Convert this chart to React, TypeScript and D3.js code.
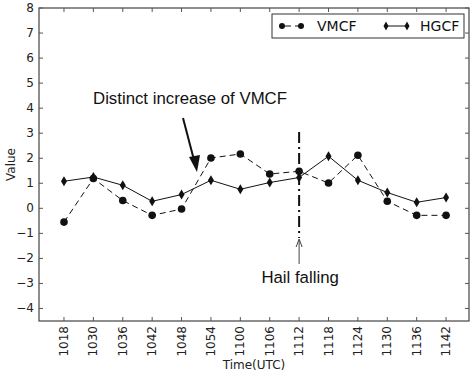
import React from 'react';
import * as d3 from 'd3';

const times = ['1018', '1030', '1036', '1042', '1048', '1054', '1100', '1106', '1112', '1118', '1124', '1130', '1136', '1142'];
const vmcf = [-0.55, 1.19, 0.31, -0.28, -0.03, 2.01, 2.17, 1.37, 1.48, 1.01, 2.12, 0.28, -0.28, -0.28];
const hgcf = [1.08, 1.25, 0.92, 0.28, 0.55, 1.12, 0.76, 1.03, 1.23, 2.08, 1.12, 0.63, 0.24, 0.43];
const yTicks = [-4, -3, -2, -1, 0, 1, 2, 3, 4, 5, 6, 7, 8];
const hailTime = '1112';

const W = 474, H = 374;
const left = 39, right = 469, top = 8, bottom = 321;

const App = () => {
  const x = d3.scaleLinear().domain([-0.85, 13.78]).range([left, right]);
  const y = d3.scaleLinear().domain([-4.5, 8]).range([bottom, top]);
  const line = d3.line<number>().x((d, i) => x(i)).y(d => y(d));
  const tickFont = 'DejaVu Sans, sans-serif';
  const annFont = 'Liberation Sans, Arial, sans-serif';
  const hx = x(times.indexOf(hailTime));

  // diamond marker path (thin)
  const diamond = (cx: number, cy: number, w = 3, h = 5) =>
    `M${cx},${cy - h}L${cx + w},${cy}L${cx},${cy + h}L${cx - w},${cy}Z`;

  return (
    <svg width={W} height={H} style={{ position: 'absolute', left: 0, top: 0, background: '#fff' }}>
      {/* frame */}
      <rect x={left} y={top} width={right - left} height={bottom - top} fill="none" stroke="#444" strokeWidth={1.2} />
      {/* y ticks */}
      {yTicks.map(t => (
        <g key={'y' + t}>
          <line x1={left} x2={left + 4} y1={y(t)} y2={y(t)} stroke="#555" />
          <line x1={right - 4} x2={right} y1={y(t)} y2={y(t)} stroke="#555" />
          <text x={left - 5} y={y(t)} textAnchor="end" dominantBaseline="central" fontFamily={tickFont} fontSize={12} fill="#222">
            {t < 0 ? '\u2212' + Math.abs(t) : t}
          </text>
        </g>
      ))}
      {/* x ticks */}
      {times.map((t, i) => (
        <g key={'x' + t}>
          <line x1={x(i)} x2={x(i)} y1={bottom} y2={bottom - 4} stroke="#555" />
          <line x1={x(i)} x2={x(i)} y1={top} y2={top + 4} stroke="#555" />
          <text transform={`translate(${x(i)},${bottom + 5}) rotate(-90)`} textAnchor="end" dominantBaseline="central"
            fontFamily={tickFont} fontSize={12} fill="#222">{t}</text>
        </g>
      ))}
      <text transform={`translate(11,${(top + bottom) / 2}) rotate(-90)`} textAnchor="middle" dominantBaseline="central"
        fontFamily={tickFont} fontSize={12} fill="#222">Value</text>
      <text x={(left + right) / 2} y={369} textAnchor="middle" fontFamily={tickFont} fontSize={12} fill="#222">Time(UTC)</text>

      {/* series */}
      <path d={line(vmcf) || ''} fill="none" stroke="#111" strokeWidth={1} strokeDasharray="6,4" />
      <path d={line(hgcf) || ''} fill="none" stroke="#111" strokeWidth={1} />
      {vmcf.map((v, i) => <circle key={'c' + i} cx={x(i)} cy={y(v)} r={3.8} fill="#111" />)}
      {hgcf.map((v, i) => <path key={'d' + i} d={diamond(x(i), y(v))} fill="#111" />)}

      {/* hail falling line + arrow */}
      <line x1={hx} x2={hx} y1={132} y2={238} stroke="#111" strokeWidth={2} strokeDasharray="11,4,2,4" />
      <line x1={hx} x2={hx} y1={264} y2={240} stroke="#444" strokeWidth={1} />
      <path d={`M${hx - 3},${247}L${hx},${239}L${hx + 3},${247}`} fill="none" stroke="#444" strokeWidth={1} />
      <text x={hx + 1} y={283} textAnchor="middle" fontFamily={annFont} fontSize={16.8} fill="#111">Hail falling</text>

      {/* distinct increase arrow */}
      <text x={190} y={104} textAnchor="middle" fontFamily={annFont} fontSize={16.8} fill="#111">Distinct increase of VMCF</text>
      <line x1={183} y1={118} x2={194} y2={160} stroke="#111" strokeWidth={2} />
      <path d="M197,172 L189,157 L200,155 Z" fill="#111" />

      {/* legend */}
      <rect x={272} y={14} width={192} height={24} fill="#fff" stroke="#333" strokeWidth={1} />
      <line x1={282} x2={301} y1={26} y2={26} stroke="#111" strokeDasharray="6,4" strokeDashoffset={-3} />
      <circle cx={282} cy={26} r={3} fill="#111" />
      <circle cx={301} cy={26} r={3} fill="#111" />
      <text x={317} y={26} dominantBaseline="central" fontFamily={tickFont} fontSize={14} fill="#111">VMCF</text>
      <line x1={386} x2={407} y1={26} y2={26} stroke="#111" />
      <path d={diamond(386, 26, 2.5, 4.5)} fill="#111" />
      <path d={diamond(407, 26, 2.5, 4.5)} fill="#111" />
      <text x={420} y={26} dominantBaseline="central" fontFamily={tickFont} fontSize={14} fill="#111">HGCF</text>
    </svg>
  );
};

export default App;
